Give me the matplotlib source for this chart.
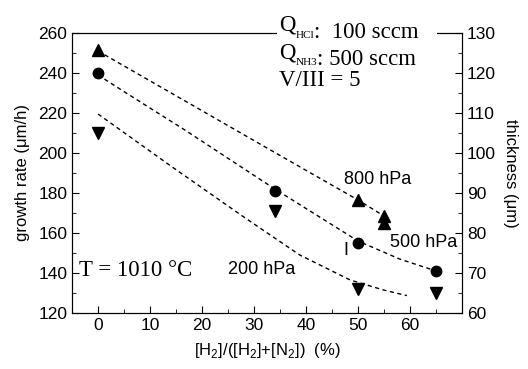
import matplotlib
matplotlib.use('Agg')
import matplotlib.pyplot as plt
from matplotlib.text import Annotation
from matplotlib.ticker import MultipleLocator

plt.rcParams['font.family'] = ['Liberation Sans', 'DejaVu Sans']
plt.rcParams['mathtext.fontset'] = 'custom'
plt.rcParams['mathtext.rm'] = 'Liberation Serif'
plt.rcParams['mathtext.sf'] = 'Liberation Sans'

# measured growth rates (um/h)
x_800 = [0, 50, 55, 55]
y_800 = [251.5, 176.5, 168.5, 165]
x_500 = [0, 34, 50, 65]
y_500 = [240, 181, 155, 141]
x_200 = [0, 34, 50, 65]
y_200 = [210, 171, 132, 130]

# dashed guide curves
cx_800 = [0, 34.3, 50, 55]
cy_800 = [251, 199.8, 176.5, 168.5]
cx_500 = [0, 5, 17, 34, 50, 58, 65]
cy_500 = [239, 230.7, 211, 182, 156, 147, 141]
cx_200 = [0, 14, 28.2, 38.8, 48.5, 54.9, 59.4]
cy_200 = [219.5, 193.5, 167.7, 149, 136.5, 131.5, 128.7]

W, H = 528, 369
fig = plt.figure(figsize=(W / 100, H / 100), dpi=100)
ax = fig.add_axes([72 / W, 1 - 313 / H, 390 / W, 280 / H])

dash = dict(color='black', lw=1, ls=(0, (3, 2.5)))
ax.plot(cx_800, cy_800, **dash)
ax.plot(cx_500, cy_500, **dash)
ax.plot(cx_200, cy_200, **dash)

ax.plot(x_800, y_800, '^', color='black', ms=8, ls='none')
ax.plot(x_500, y_500, 'o', color='black', ms=7.5, ls='none')
ax.plot(x_200, y_200, 'v', color='black', ms=8, ls='none')

ax.set_xlim(-5, 70)
ax.set_ylim(120, 260)
ax.xaxis.set_minor_locator(MultipleLocator(5))
ax.yaxis.set_major_locator(MultipleLocator(20))
ax.yaxis.set_minor_locator(MultipleLocator(10))
ax.set_xticks([0, 10, 20, 30, 40, 50, 60])
ax.tick_params(which='both', direction='in', labelsize=12.5, top=False)
ax.tick_params(which='major', length=5)
ax.tick_params(which='minor', length=3)

ax2 = ax.twinx()
ax2.set_ylim(60, 130)
ax2.yaxis.set_major_locator(MultipleLocator(10))
ax2.yaxis.set_minor_locator(MultipleLocator(5))
ax2.tick_params(which='both', direction='in', labelsize=12.5)
ax2.tick_params(which='major', length=5)
ax2.tick_params(which='minor', length=3)

ax.set_xlabel('[H$_\\mathsf{2}$]/([H$_\\mathsf{2}$]+[N$_\\mathsf{2}$])  (%)', fontsize=12, labelpad=6)
ax.set_ylabel('growth rate (μm/h)', fontsize=12, labelpad=6)
ax2.set_ylabel('thickness (μm)', fontsize=12, rotation=270, labelpad=16)

ax.text(53.8, 186.5, '800 hPa', fontsize=13, ha='center', va='center')
ax.text(62.7, 155, '500 hPa', fontsize=13, ha='center', va='center')
ax.text(31.5, 141.5, '200 hPa', fontsize=13, ha='center', va='center')
ax.text(47.7, 151, 'I', fontsize=13, ha='center', va='center')
ax.text(-3.6, 141, 'T = 1010 °C', fontsize=16.5, family='Liberation Serif',
        ha='left', va='center')

# white strip hides the top spine behind the first line
fig.add_artist(plt.Rectangle((277 / W, 1 - 36 / H), 160 / W, 6 / H,
                             transform=fig.transFigure, facecolor='white',
                             edgecolor='none', zorder=5))

serif = dict(family='Liberation Serif', ha='left', va='baseline', zorder=6)


def q_line(y, sub, rest):
    q = fig.text(279 / W, 1 - y / H, 'Q', fontsize=16.5, **serif)
    s = fig.add_artist(Annotation(sub, xy=(1, 0), xycoords=q, xytext=(0, -1.5),
                                  textcoords='offset points', fontsize=8,
                                  annotation_clip=False, **serif))
    fig.add_artist(Annotation(rest, xy=(1, 0), xycoords=s, xytext=(0, 1.5),
                              textcoords='offset points', fontsize=16.5,
                              annotation_clip=False, **serif))


q_line(31, 'HCl', ':  100 sccm')
q_line(58, 'NH3', ': 500 sccm')
fig.text(279 / W, 1 - 86 / H, 'V/III = 5', fontsize=16.5, **serif)

fig.savefig('out.png', dpi=100)
